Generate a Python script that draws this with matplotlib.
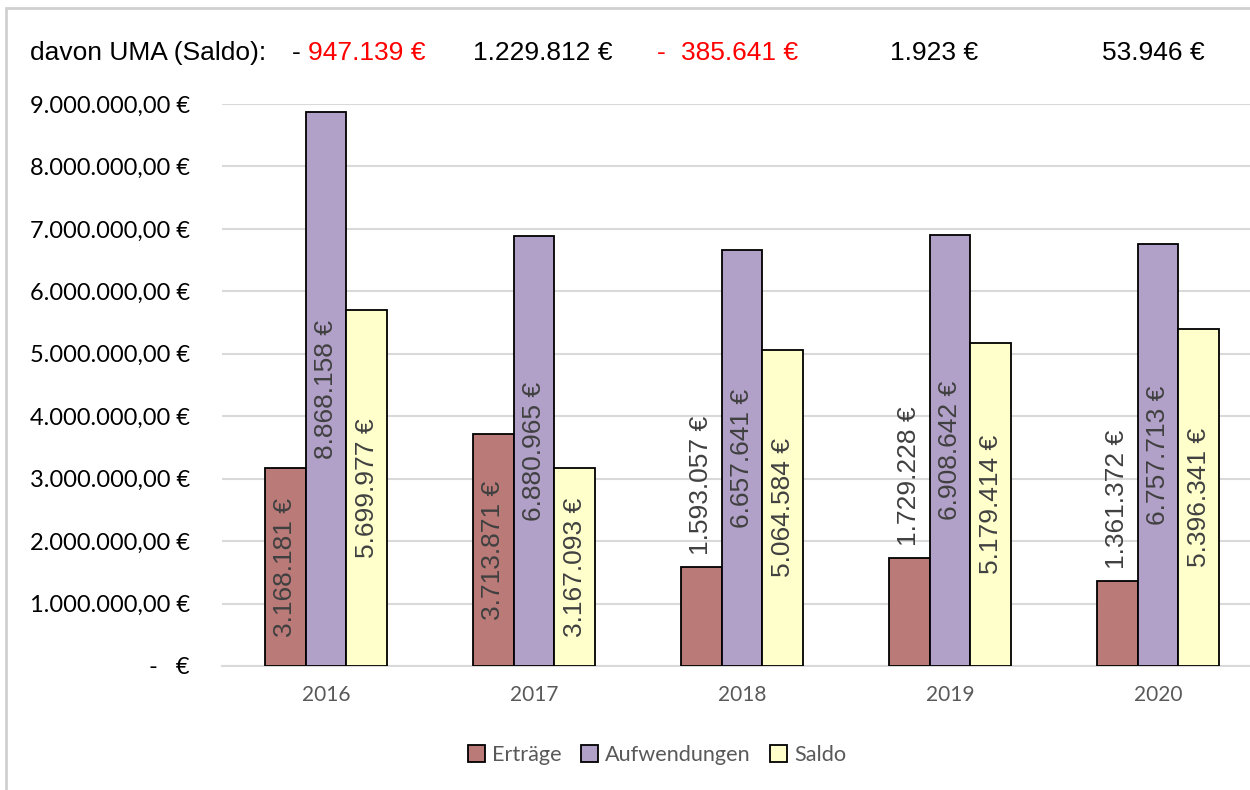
import matplotlib.pyplot as plt
from matplotlib.patches import Rectangle
import numpy as np

jahre = ['2016', '2017', '2018', '2019', '2020']
ertraege = [3168181, 3713871, 1593057, 1729228, 1361372]
aufwendungen = [8868158, 6880965, 6657641, 6908642, 6757713]
saldo = [5699977, 3167093, 5064584, 5179414, 5396341]

# davon UMA (Saldo) - Zeile oben
uma_werte = [-947139, 1229812, -385641, 1923, 53946]

farben = ['#B97A78', '#B1A0C7', '#FFFFCC']
namen = ['Erträge', 'Aufwendungen', 'Saldo']

yticks = list(range(0, 9000001, 1000000))


def euro(v):
    return f"{v:,.0f}".replace(',', '.') + ' €'


def achse_euro(v):
    if v == 0:
        return '-   €'
    s = f"{v:,.2f}"
    s = s.replace(',', 'X').replace('.', ',').replace('X', '.')
    return s + ' €'


fig = plt.figure(figsize=(12.5, 7.9), dpi=100)
ax = fig.add_axes([222 / 1250, 1 - 666 / 790, 1040 / 1250, 562 / 790])

x = np.arange(len(jahre))
breite = 0.195
reihen = [ertraege, aufwendungen, saldo]

for i, (werte, farbe, name) in enumerate(zip(reihen, farben, namen)):
    pos = x + (i - 1) * breite
    ax.bar(pos, werte, width=breite, color=farbe, edgecolor='black',
           linewidth=1.3, label=name, zorder=3)
    for p, v in zip(pos, werte):
        if v >= 2400000:
            ax.text(p, v / 2, euro(v), rotation=90, ha='center', va='center',
                    fontsize=19, color='#404040', family='Liberation Sans',
                    zorder=4)
        else:
            ax.annotate(euro(v), (p, v), xytext=(0, 12),
                        textcoords='offset pixels', rotation=90,
                        ha='center', va='bottom', fontsize=19,
                        color='#404040', family='Liberation Sans', zorder=4)

ax.set_xlim(-0.5, 4.5)
ax.set_ylim(0, 9000000)
ax.set_xticks(x)
ax.set_xticklabels(jahre, fontsize=15, color='#595959', family='Lato')
ax.set_yticks(yticks)
ax.set_yticklabels([achse_euro(v) for v in yticks], fontsize=17,
                   color='black', family='Lato')
ax.tick_params(axis='both', length=0)
ax.tick_params(axis='y', pad=23)
ax.tick_params(axis='x', pad=14)
ax.grid(axis='y', color='#d9d9d9', linewidth=1.5, zorder=0)
for s in ['top', 'right', 'left']:
    ax.spines[s].set_visible(False)
ax.spines['bottom'].set_color('#d9d9d9')
ax.spines['bottom'].set_linewidth(1.5)

leg = fig.legend(loc='center', bbox_to_anchor=(657 / 1250, 1 - 755 / 790),
                 ncol=3, frameon=False, handlelength=0.8, handleheight=0.8,
                 handletextpad=0.3, columnspacing=0.9,
                 prop={'family': 'Lato', 'size': 15.6})
for t in leg.get_texts():
    t.set_color('#595959')

# Kopfzeile
y_top = 1 - 53 / 790
fig.text(30 / 1250, y_top, 'davon UMA (Saldo):', fontsize=19,
         family='Liberation Sans', va='center')
x_pos = [292, 473, 657, 890, 1102]
for xp, v in zip(x_pos, uma_werte):
    if v < 0:
        if xp < 400:
            minus_farbe, abstand = 'black', 16
        else:
            minus_farbe, abstand = 'red', 24
        fig.text(xp / 1250, y_top, '-', fontsize=19, color=minus_farbe,
                 family='Liberation Sans', va='center')
        fig.text((xp + abstand) / 1250, y_top, euro(-v), fontsize=19,
                 color='red', family='Liberation Sans', va='center')
    else:
        fig.text(xp / 1250, y_top, euro(v), fontsize=19, color='black',
                 family='Liberation Sans', va='center')

# Rahmen
fig.patches.append(Rectangle((6 / 1250, -0.1), 1.1, (790 - 8) / 790 + 0.1,
                             transform=fig.transFigure, fill=False,
                             edgecolor='#d0d0d0', linewidth=2))

fig.savefig('out.png', dpi=100)
